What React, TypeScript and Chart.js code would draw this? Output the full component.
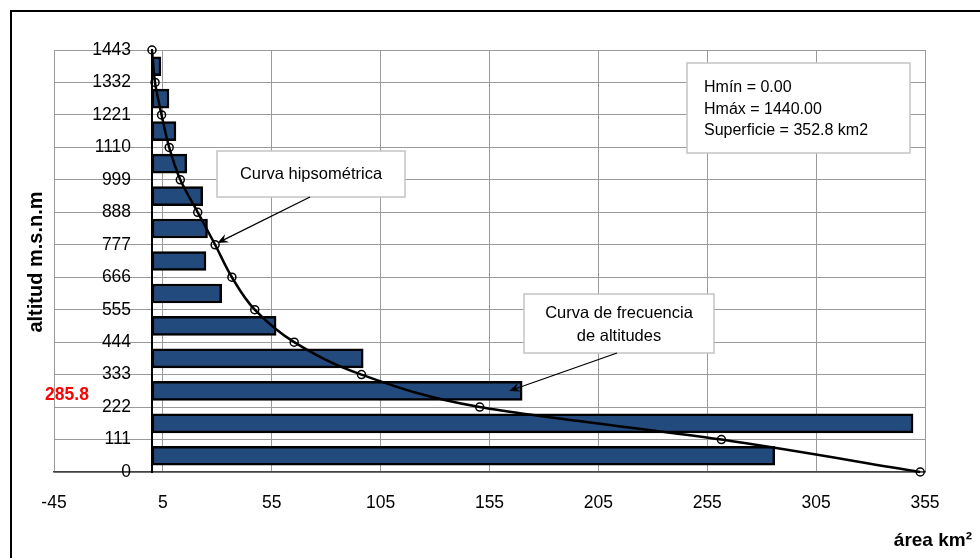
import React, { useEffect, useRef } from 'react';
import { Chart, registerables } from 'chart.js';

Chart.register(...registerables);

// ---------- data ----------
const altitudeTicks = [0, 111, 222, 333, 444, 555, 666, 777, 888, 999, 1110, 1221, 1332, 1443];
const areaTicks = [-45, 5, 55, 105, 155, 205, 255, 305, 355];

// frequency of altitudes (bars), one per altitude band
const bandMidAltitude = [55.5, 166.5, 277.5, 388.5, 499.5, 610.5, 721.5, 832.5, 943.5, 1054.5, 1165.5, 1276.5, 1387.5];
const bandArea = [286, 349.5, 170, 97, 57, 32, 24.8, 25.5, 23.3, 16, 11, 7.8, 4.1];

// hypsometric curve (cumulative area above altitude)
const curveAltitude = [0, 111, 222, 333, 444, 555, 666, 777, 888, 999, 1110, 1221, 1332, 1443];
const curveArea = [352.8, 261.5, 150.5, 96.2, 65.3, 47.2, 36.7, 29, 21, 13, 7.9, 4.4, 1.4, 0];

const infoLines = ['Hmín = 0.00', 'Hmáx = 1440.00', 'Superficie = 352.8 km2'];
const hypsoLabel = ['Curva hipsométrica'];
const freqLabel = ['Curva de frecuencia', 'de altitudes'];
const meanAltitudeText = '285.8';
const yTitle = 'altitud m.s.n.m';
const xTitle = 'área km²';

const FONT = "'Liberation Sans', Arial, sans-serif";

function drawArrow(ctx: CanvasRenderingContext2D, x1: number, y1: number, x2: number, y2: number) {
  const ang = Math.atan2(y2 - y1, x2 - x1);
  const len = 11;
  const hw = 4.5;
  ctx.save();
  ctx.strokeStyle = '#000';
  ctx.fillStyle = '#000';
  ctx.lineWidth = 1.3;
  ctx.beginPath();
  ctx.moveTo(x1, y1);
  ctx.lineTo(x2 - Math.cos(ang) * 6, y2 - Math.sin(ang) * 6);
  ctx.stroke();
  const bx = x2 - Math.cos(ang) * len;
  const by = y2 - Math.sin(ang) * len;
  const nx = -Math.sin(ang);
  const ny = Math.cos(ang);
  ctx.beginPath();
  ctx.moveTo(x2, y2);
  ctx.lineTo(bx + nx * hw, by + ny * hw);
  ctx.lineTo(x2 - Math.cos(ang) * 7, y2 - Math.sin(ang) * 7);
  ctx.lineTo(bx - nx * hw, by - ny * hw);
  ctx.closePath();
  ctx.fill();
  ctx.restore();
}

function drawBox(ctx: CanvasRenderingContext2D, x: number, y: number, w: number, h: number) {
  ctx.save();
  ctx.fillStyle = '#ffffff';
  ctx.fillRect(x, y, w, h);
  ctx.strokeStyle = '#c4c4c4';
  ctx.lineWidth = 1.5;
  ctx.strokeRect(x, y, w, h);
  ctx.restore();
}

const annotationPlugin = {
  id: 'hypsoAnnotations',
  afterDraw(chart: any) {
    const ctx: CanvasRenderingContext2D = chart.ctx;
    const xs = chart.scales.x;
    const ys = chart.scales.y;
    ctx.save();

    // info box
    drawBox(ctx, 687, 63, 223, 90);
    ctx.fillStyle = '#000';
    ctx.font = `16px ${FONT}`;
    ctx.textAlign = 'left';
    ctx.textBaseline = 'middle';
    infoLines.forEach((t, i) => ctx.fillText(t, 704, 88 + i * 21.5));

    // hypsometric curve label
    drawBox(ctx, 217, 151, 188, 46);
    ctx.textAlign = 'center';
    ctx.font = `16.5px ${FONT}`;
    ctx.fillStyle = '#000';
    hypsoLabel.forEach((t, i) => ctx.fillText(t, 311, 174 + i * 22));
    drawArrow(ctx, 310, 197, xs.getPixelForValue(30), ys.getPixelForValue(783));

    // frequency label
    drawBox(ctx, 524, 294, 190, 59);
    ctx.fillStyle = '#000';
    freqLabel.forEach((t, i) => ctx.fillText(t, 619, 313 + i * 23));
    drawArrow(ctx, 617, 353, xs.getPixelForValue(164), ys.getPixelForValue(277));

    // mean altitude label
    ctx.fillStyle = '#ff0000';
    ctx.font = `bold 17.5px ${FONT}`;
    ctx.textAlign = 'center';
    ctx.fillText(meanAltitudeText, 67, 395);

    // axis titles
    ctx.fillStyle = '#000';
    ctx.font = `bold 20px ${FONT}`;
    ctx.save();
    ctx.translate(36, 262);
    ctx.rotate(-Math.PI / 2);
    ctx.textAlign = 'center';
    ctx.fillText(yTitle, 0, 0);
    ctx.restore();

    ctx.font = `bold 19px ${FONT}`;
    ctx.textAlign = 'right';
    ctx.textBaseline = 'alphabetic';
    ctx.fillText(xTitle, 972, 546);

    ctx.restore();
  },
};

export default function App() {
  const canvasRef = useRef<HTMLCanvasElement | null>(null);

  useEffect(() => {
    const canvas = canvasRef.current;
    if (!canvas) return;
    const chart = new Chart(canvas, {
      type: 'bar',
      data: {
        datasets: [
          {
            type: 'scatter',
            label: 'Curva hipsométrica',
            indexAxis: 'y',
            data: curveArea.map((a, i) => ({ x: a, y: curveAltitude[i] })),
            showLine: true,
            borderColor: '#000',
            borderWidth: 2.5,
            cubicInterpolationMode: 'monotone',
            pointRadius: 4,
            pointBorderWidth: 1.5,
            pointBorderColor: '#000',
            pointBackgroundColor: 'rgba(0,0,0,0)',
            clip: false,
            order: 0,
          } as any,
          {
            type: 'bar',
            label: 'Curva de frecuencia de altitudes',
            indexAxis: 'y',
            data: bandArea.map((a, i) => ({ x: a, y: bandMidAltitude[i] })),
            backgroundColor: '#234a7c',
            borderColor: '#000',
            borderWidth: 2.5,
            borderSkipped: false,
            barThickness: 19,
            order: 1,
          } as any,
        ],
      },
      options: {
        animation: false,
        responsive: false,
        devicePixelRatio: 1,
        layout: { padding: { left: 54, right: 55, top: 50, bottom: 0 } },
        plugins: {
          legend: { display: false },
          tooltip: { enabled: false },
        },
        scales: {
          x: {
            type: 'linear',
            position: 'bottom',
            min: -45,
            max: 355,
            offset: false,
            afterBuildTicks: (s: any) => {
              s.ticks = areaTicks.map((v) => ({ value: v }));
            },
            afterFit: (s: any) => {
              s.height = 86;
            },
            grid: { color: '#9a9a9a', lineWidth: 1, drawTicks: false, offset: false },
            border: { color: '#444', width: 1.5 },
            ticks: {
              color: '#000',
              padding: 21,
              font: { family: FONT, size: 17.5 },
              maxRotation: 0,
              callback: (v: any) => String(v),
            },
          },
          y: {
            type: 'linear',
            position: { x: 0 } as any,
            min: 0,
            max: 1443,
            offset: false,
            afterBuildTicks: (s: any) => {
              s.ticks = altitudeTicks.map((v) => ({ value: v }));
            },
            grid: { color: '#9a9a9a', lineWidth: 1, drawTicks: false, offset: false },
            border: { color: '#000', width: 2 },
            ticks: { display: false },
          },
          yLabels: {
            type: 'linear',
            axis: 'y',
            position: { x: -9.6 } as any,
            min: 0,
            max: 1443,
            offset: false,
            afterBuildTicks: (s: any) => {
              s.ticks = altitudeTicks.map((v) => ({ value: v }));
            },
            grid: { display: false, drawTicks: false },
            border: { display: false },
            ticks: {
              color: '#000',
              font: { family: FONT, size: 17.5 },
              callback: (v: any) => String(v),
            },
          },
        },
      } as any,
      plugins: [annotationPlugin],
    });
    return () => chart.destroy();
  }, []);

  return (
    <div
      style={{
        position: 'fixed',
        left: 0,
        top: 0,
        width: 980,
        height: 558,
        overflow: 'hidden',
        background: '#fff',
      }}
    >
      <canvas ref={canvasRef} width={980} height={558} style={{ position: 'absolute', left: 0, top: 0 }} />
      <div
        style={{
          position: 'absolute',
          left: 10,
          top: 10,
          width: 1000,
          height: 600,
          border: '2px solid #000',
          pointerEvents: 'none',
        }}
      />
    </div>
  );
}
